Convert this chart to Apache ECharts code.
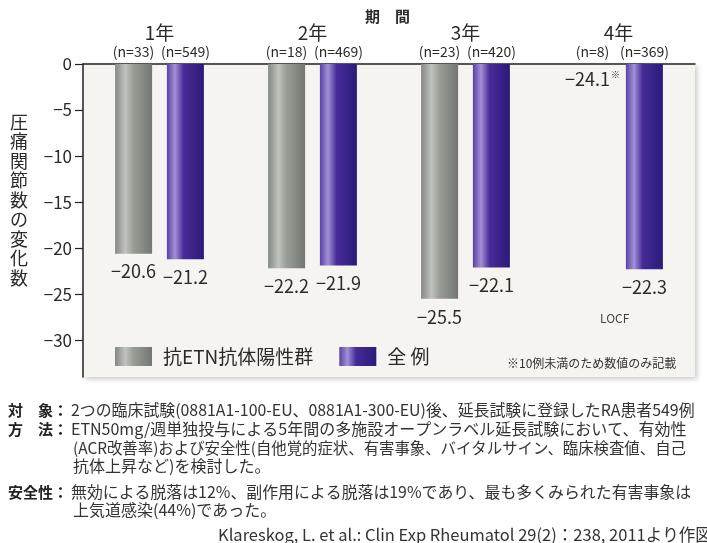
<!DOCTYPE html>
<html>
<head>
<meta charset="utf-8">
<script src="https://cdn.jsdelivr.net/npm/echarts@6/dist/echarts.min.js"></script>
<style>
  html, body { margin: 0; padding: 0; background: #ffffff; }
  #chart { width: 707px; height: 543px; }
</style>
</head>
<body>
<div id="chart"></div>
<script>
// 期間ごとの圧痛関節数の変化（平均）
const periods = ['1年', '2年', '3年', '4年'];
const nPositive = [33, 18, 23, 8];
const nAll = [549, 469, 420, 369];
const positiveChange = [-20.6, -22.2, -25.5, -24.1];
const allChange = [-21.2, -21.9, -22.1, -22.3];
// 10例未満は数値のみ記載（棒は描かない）
const valueOnly = [false, false, false, true];
const yTicks = [0, -5, -10, -15, -20, -25, -30];
const seriesNames = ['抗ETN抗体陽性群', '全 例'];

const FONT = "'Noto Sans CJK JP', 'Noto Sans', sans-serif";
const INK = '#2a2a2a';

function fmt(v) {
  return v === 0 ? '0' : '\u2212' + Math.abs(v);
}

const grayFill = new echarts.graphic.LinearGradient(0, 0, 1, 0, [
  { offset: 0, color: '#858983' },
  { offset: 0.28, color: '#bfc3bb' },
  { offset: 0.5, color: '#999d96' },
  { offset: 1, color: '#737770' }
]);
const purpleFill = new echarts.graphic.LinearGradient(0, 0, 1, 0, [
  { offset: 0, color: '#5a40a6' },
  { offset: 0.22, color: '#a291d6' },
  { offset: 0.45, color: '#472b98' },
  { offset: 1, color: '#2b1a7a' }
]);

const positiveData = positiveChange.map((v, i) => {
  if (!valueOnly[i]) return v;
  return {
    value: v,
    itemStyle: { color: 'transparent' },
    label: {
      position: 'insideTop',
      distance: 6,
      formatter: p => '{v|' + fmt(p.value) + '}{s|※}',
      rich: {
        v: { fontSize: 18, fontFamily: FONT, color: INK },
        s: { fontSize: 9, fontFamily: FONT, color: INK, verticalAlign: 'top', padding: [0, 0, 8, 1] }
      }
    }
  };
});

const valueLabel = {
  show: true,
  position: 'bottom',
  distance: 9,
  fontSize: 18,
  fontFamily: FONT,
  color: INK,
  formatter: p => fmt(p.value)
};

const chart = echarts.init(document.getElementById('chart'), null, { renderer: 'canvas' });

const noteFont = '16px ' + FONT;
const headFont = 'bold 15px ' + FONT;

chart.setOption({
  animation: false,
  backgroundColor: '#ffffff',
  textStyle: { fontFamily: FONT },
  grid: {
    left: 83, right: 12, top: 64, bottom: 166,
    show: true,
    backgroundColor: '#f5f4f0',
    borderWidth: 0,
    shadowColor: 'rgba(0,0,0,0.22)',
    shadowBlur: 5,
    shadowOffsetX: 2,
    shadowOffsetY: 2
  },
  legend: {
    left: 115, top: 347,
    padding: 0,
    itemWidth: 37, itemHeight: 19, itemGap: 26,
    icon: 'rect',
    textStyle: { fontSize: 19, fontFamily: FONT, color: INK, padding: [0, 0, 0, 6] },
    data: seriesNames
  },
  xAxis: {
    type: 'category',
    position: 'top',
    data: periods,
    axisLine: { lineStyle: { color: '#222', width: 1.5 } },
    axisTick: { show: false },
    axisLabel: {
      margin: 4,
      interval: 0,
      formatter: (v, i) => '{yr|' + v + '}\n{a|(n=' + nPositive[i] + ')}{b|(n=' + nAll[i] + ')}',
      rich: {
        yr: { fontSize: 19, lineHeight: 22, color: INK, fontFamily: FONT, align: 'center' },
        a: { fontSize: 14, lineHeight: 16, width: 52, align: 'center', color: INK, fontFamily: FONT },
        b: { fontSize: 14, lineHeight: 16, width: 52, align: 'center', color: INK, fontFamily: FONT }
      }
    }
  },
  yAxis: {
    type: 'value',
    min: -34,
    max: 0,
    splitLine: { show: false },
    axisLine: { show: true, lineStyle: { color: '#222', width: 1.5 } },
    axisTick: { show: true, length: 8, lineStyle: { color: '#222', width: 1.2 }, customValues: yTicks },
    axisLabel: {
      customValues: yTicks,
      fontSize: 17,
      color: INK,
      fontFamily: FONT,
      margin: 11,
      formatter: v => fmt(v)
    }
  },
  series: [
    {
      name: seriesNames[0],
      type: 'bar',
      barWidth: 37,
      barGap: '40%',
      itemStyle: { color: grayFill },
      label: valueLabel,
      data: positiveData
    },
    {
      name: seriesNames[1],
      type: 'bar',
      barWidth: 37,
      barGap: '40%',
      itemStyle: { color: purpleFill },
      label: valueLabel,
      data: allChange
    }
  ],
  graphic: [
    { type: 'text', left: 365, top: 9, style: { text: '期　間', font: 'bold 15px ' + FONT, fill: INK } },
    { type: 'text', x: 19, y: 200, style: {
        text: '圧\n痛\n関\n節\n数\nの\n変\n化\n数', font: '18px ' + FONT, fill: INK,
        lineHeight: 19.5, align: 'center', verticalAlign: 'middle' } },
    { type: 'text', x: 600, y: 318, style: { text: 'LOCF', font: '12px ' + FONT, fill: '#444', verticalAlign: 'middle' } },
    { type: 'text', x: 507, y: 363, style: { text: '※10例未満のため数値のみ記載', font: '12px ' + FONT, fill: '#333', verticalAlign: 'middle' } },

    { type: 'text', x: 8, y: 410, style: { text: '対　象：', font: headFont, fill: '#222', verticalAlign: 'middle' } },
    { type: 'text', x: 71, y: 410, style: { text: '2つの臨床試験(0881A1-100-EU、0881A1-300-EU)後、延長試験に登録したRA患者549例', font: '15.9px ' + FONT, fill: '#333', verticalAlign: 'middle' } },
    { type: 'text', x: 8, y: 429, style: { text: '方　法：', font: headFont, fill: '#222', verticalAlign: 'middle' } },
    { type: 'text', x: 71, y: 429, style: { text: 'ETN50mg/週単独投与による5年間の多施設オープンラベル延長試験において、有効性', font: noteFont, fill: '#333', verticalAlign: 'middle' } },
    { type: 'text', x: 73, y: 448, style: { text: '(ACR改善率)および安全性(自他覚的症状、有害事象、バイタルサイン、臨床検査値、自己', font: '15.4px ' + FONT, fill: '#333', verticalAlign: 'middle' } },
    { type: 'text', x: 73, y: 466, style: { text: '抗体上昇など)を検討した。', font: noteFont, fill: '#333', verticalAlign: 'middle' } },
    { type: 'text', x: 8, y: 492, style: { text: '安全性：', font: headFont, fill: '#222', verticalAlign: 'middle' } },
    { type: 'text', x: 71, y: 492, style: { text: '無効による脱落は12%、副作用による脱落は19%であり、最も多くみられた有害事象は', font: '15.9px ' + FONT, fill: '#333', verticalAlign: 'middle' } },
    { type: 'text', x: 73, y: 510, style: { text: '上気道感染(44%)であった。', font: noteFont, fill: '#333', verticalAlign: 'middle' } },
    { type: 'text', x: 218, y: 535, style: { text: 'Klareskog, L. et al.: Clin Exp Rheumatol 29(2)：238, 2011より作図', font: '16.5px ' + FONT, fill: '#333', verticalAlign: 'middle' } }
  ]
});
</script>
</body>
</html>
